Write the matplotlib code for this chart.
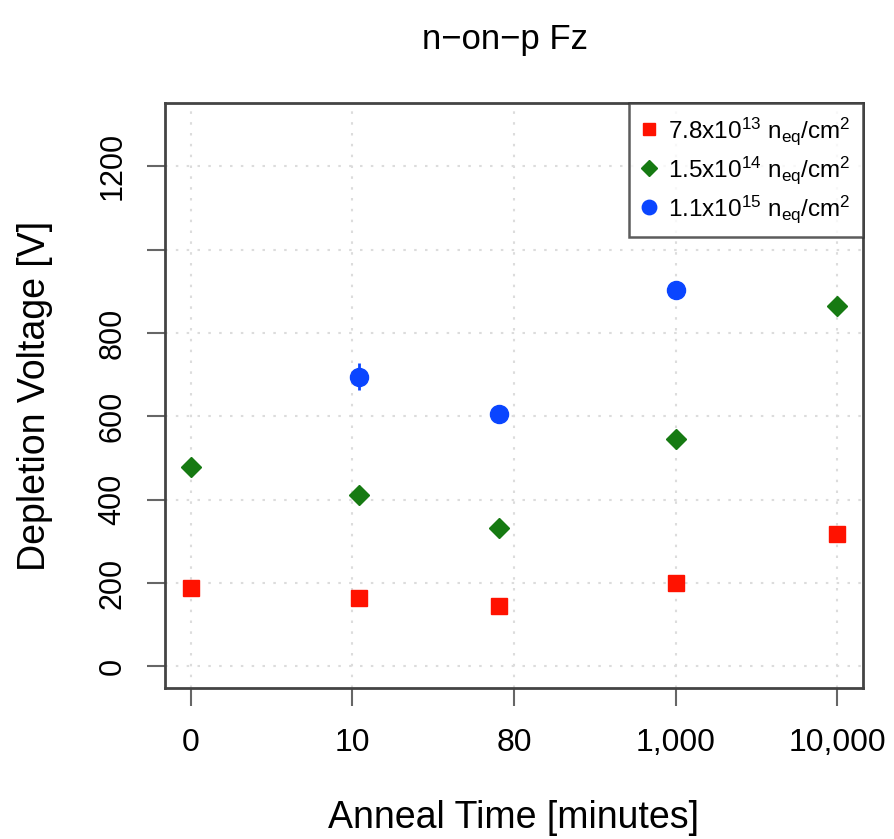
import matplotlib
matplotlib.use("Agg")
import matplotlib.pyplot as plt
import numpy as np

plt.rcParams['font.family'] = ['Liberation Sans', 'DejaVu Sans']
plt.rcParams['mathtext.fontset'] = 'custom'
plt.rcParams['mathtext.rm'] = 'Liberation Sans'
plt.rcParams['mathtext.it'] = 'Liberation Sans'

# anneal times (minutes)
times_red = [0, 10, 80, 1000, 10000]
volts_red = [187, 165, 146, 201, 318]

times_green = [0, 10, 80, 1000, 10000]
volts_green = [479, 412, 333, 546, 865]

times_blue = [10, 80, 1000]
volts_blue = [695, 606, 903]
err_blue = [32, 0, 0]

tick_vals = [0, 1, 2, 3, 4]
tick_labels = ["0", "10", "80", "1,000", "10,000"]
ytick_vals = [0, 200, 400, 600, 800, 1000, 1200]
ytick_labels = ["0", "200", "400", "600", "800", "", "1200"]

labels = [r"7.8x10$^{13}$ n$_{eq}$/cm$^{2}$",
          r"1.5x10$^{14}$ n$_{eq}$/cm$^{2}$",
          r"1.1x10$^{15}$ n$_{eq}$/cm$^{2}$"]

fig = plt.figure(figsize=(8.94, 8.39), dpi=100)
ax = fig.add_axes([165/894, 1-688/839, (863-165)/894, (688-103)/839])

def xpos(t):
    return np.log10(np.array(t) + 1)

for v in ytick_vals:
    ax.axhline(v, color="#dcdcdc", lw=1.5, ls=(0, (1.2, 4)), zorder=0)
for v in tick_vals:
    ax.axvline(v, color="#dcdcdc", lw=1.5, ls=(0, (1.2, 4)), zorder=0)

ax.plot(xpos(times_red), volts_red, ls="none", marker="s", ms=11.5,
        color="#ff1200", label=labels[0])
ax.plot(xpos(times_green), volts_green, ls="none", marker="D", ms=10,
        color="#167a12", label=labels[1])
ax.errorbar(xpos(times_blue), volts_blue, yerr=err_blue, fmt="none",
            ecolor="#0a45ff", elinewidth=2, capsize=0)
ax.plot(xpos(times_blue), volts_blue, ls="none", marker="o", ms=13,
        color="#0a45ff", label=labels[2])

ax.set_xlim(-0.16, 4.16)
ax.set_ylim(-52, 1352)
ax.set_xticks(tick_vals)
ax.set_xticklabels(tick_labels)
ax.set_yticks(ytick_vals)
ax.set_yticklabels(ytick_labels)

ax.tick_params(axis="x", labelsize=23, length=13, width=1.5, color="#666666", pad=16)
ax.tick_params(axis="y", labelsize=22, length=13, width=1.5, color="#666666", pad=14,
               labelrotation=90)
for lab in ax.get_yticklabels():
    lab.set_va("center")

for s in ax.spines.values():
    s.set_color("#444444")
    s.set_linewidth(2)

ax.set_xlabel("Anneal Time [minutes]", fontsize=27)
ax.xaxis.set_label_coords(0.5, -0.222)
ax.xaxis.label.set_va("center")
ax.set_ylabel("Depletion Voltage [V]", fontsize=27)
ax.yaxis.set_label_coords(-0.186, 0.5)
ax.yaxis.label.set_va("center")

fig.text(505/894, 1-40/839, "n\u2212on\u2212p Fz", fontsize=25, ha="center", va="center")

leg = ax.legend(loc="upper right", borderaxespad=0, fontsize=17.5, frameon=True,
                fancybox=False, handlelength=0.6, handletextpad=0.5,
                borderpad=0.5, labelspacing=0.3, markerscale=0.8)
leg.get_frame().set_edgecolor("#333333")
leg.get_frame().set_linewidth(1.8)

fig.savefig("out.png", dpi=100)
